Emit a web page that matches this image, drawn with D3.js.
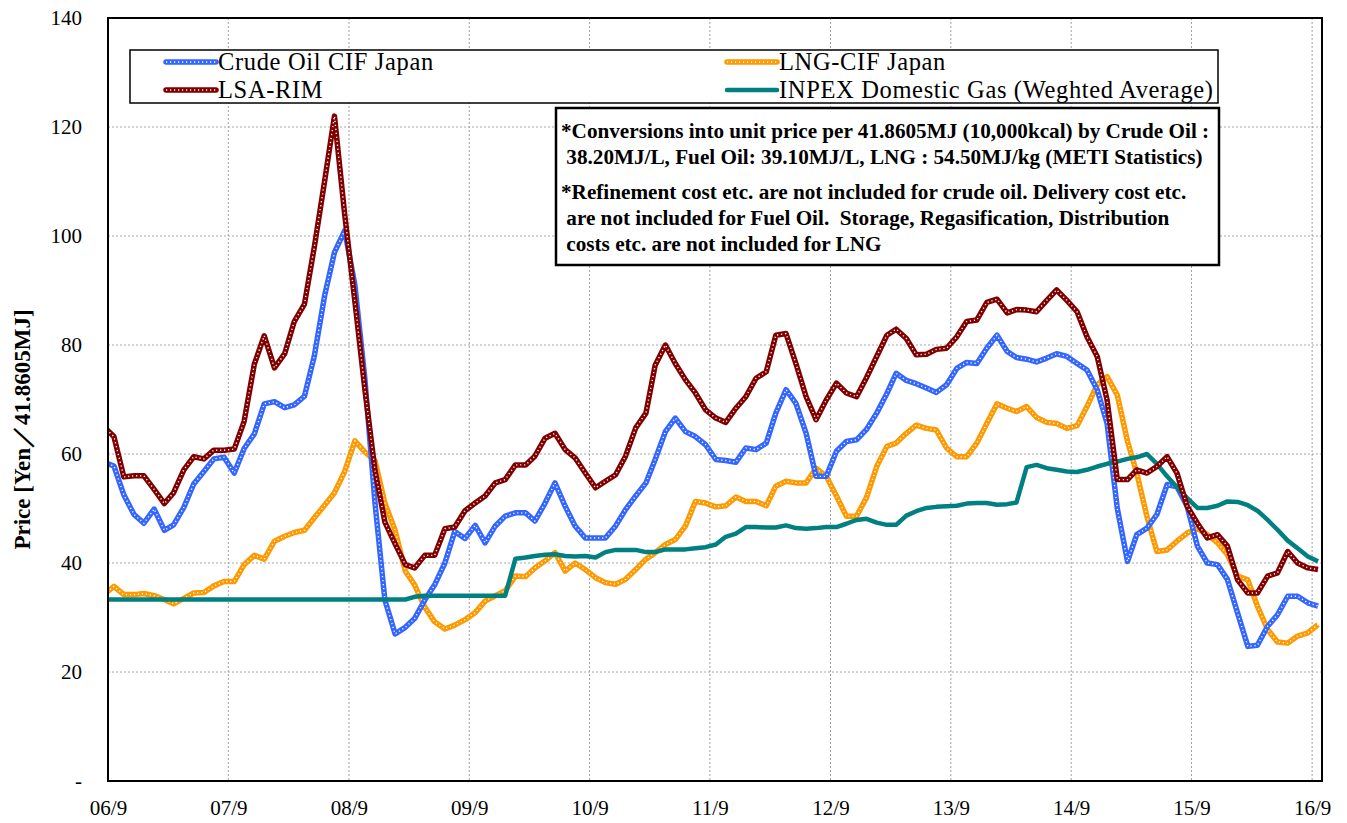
<!DOCTYPE html>
<html>
<head>
<meta charset="utf-8">
<script src="https://d3js.org/d3.v7.min.js"></script>
<style>
body { margin: 0; background: #fff; }
</style>
</head>
<body>
<script>
// monthly values, 2006/8 .. 2016/9 (first month only shows as the clipped start of the line)
var months = d3.timeMonth.range(new Date(2006, 7, 1), new Date(2016, 9, 1));

var crude = [58.5, 57.8, 52.5, 48.9, 47.3, 49.9, 46.0, 47.0, 50.2, 54.5,
  56.8, 59.1, 59.4, 56.5, 61.0, 63.7, 69.2, 69.6, 68.5, 69.0,
  70.6, 78.0, 89.0, 97.0, 101.0, 91.0, 74.0, 51.0, 33.2, 27.0,
  28.2, 29.8, 33.2, 36.0, 40.0, 45.8, 44.5, 46.9, 43.7, 46.8,
  48.6, 49.2, 49.2, 47.7, 51.0, 54.7, 50.4, 46.8, 44.6, 44.6,
  44.6, 46.8, 49.8, 52.3, 54.7, 59.0, 64.1, 66.6, 64.1, 63.2,
  61.7, 59.0, 58.8, 58.5, 61.1, 60.8, 62.0, 67.5, 71.8, 69.3,
  63.8, 55.9, 55.9, 60.5, 62.3, 62.6, 64.5, 67.5, 71.1, 74.8,
  73.5, 72.9, 72.1, 71.3, 72.7, 75.7, 76.8, 76.6, 79.4, 81.8,
  78.8, 77.7, 77.4, 76.9, 77.6, 78.4, 77.9, 76.6, 75.4, 71.8,
  65.6, 50.0, 40.3, 45.2, 46.4, 48.9, 54.4, 54.0, 50.4, 43.1,
  40.0, 39.7, 37.0, 30.8, 24.7, 24.9, 28.4, 30.5, 33.9, 33.9,
  32.7, 32.1];

var lsa = [65.0, 63.2, 55.8, 56.0, 56.0, 53.5, 50.9, 52.9, 57.1, 59.5,
  59.1, 60.7, 60.7, 60.9, 66.0, 76.5, 81.7, 75.8, 78.4, 84.3,
  87.5, 98.0, 110.0, 122.0, 104.0, 88.0, 72.0, 57.0, 47.5, 43.5,
  39.7, 39.1, 41.4, 41.4, 46.3, 46.6, 49.6, 51.0, 52.3, 54.7,
  55.3, 58.0, 58.0, 59.6, 62.9, 63.8, 60.8, 59.3, 56.5, 53.8,
  55.0, 56.2, 59.6, 64.8, 67.5, 76.3, 80.0, 76.6, 73.6, 71.2,
  68.1, 66.6, 65.8, 68.4, 70.5, 73.9, 75.1, 81.8, 82.1, 76.6,
  70.5, 66.3, 69.9, 73.0, 71.2, 70.5, 74.0, 77.9, 81.8, 82.9,
  81.2, 78.2, 78.3, 79.2, 79.4, 81.5, 84.3, 84.6, 87.8, 88.4,
  85.9, 86.5, 86.4, 86.1, 88.2, 90.1, 88.2, 86.1, 81.5, 77.9,
  69.9, 55.3, 55.3, 57.1, 56.5, 57.7, 59.5, 56.5, 50.4, 47.3,
  44.6, 45.2, 43.1, 36.9, 34.5, 34.5, 37.6, 38.2, 42.1, 40.0,
  39.1, 38.8];

var lng = [34.2, 35.7, 34.2, 34.2, 34.4, 34.0, 33.3, 32.5, 33.5, 34.5,
  34.6, 35.8, 36.6, 36.6, 39.7, 41.4, 40.7, 44.0, 44.9, 45.6,
  46.0, 48.3, 50.6, 52.9, 56.8, 62.4, 60.4, 58.8, 51.0, 46.0,
  38.5, 36.0, 31.9, 29.2, 27.9, 28.6, 29.6, 30.9, 33.0, 34.0,
  34.9, 37.6, 37.5, 39.1, 40.4, 41.9, 38.5, 40.0, 38.8, 37.3,
  36.4, 36.1, 37.0, 38.8, 40.7, 41.9, 43.4, 44.3, 46.8, 51.3,
  51.0, 50.3, 50.5, 52.1, 51.3, 51.3, 50.5, 54.1, 55.0, 54.7,
  54.7, 57.4, 55.9, 52.3, 48.6, 48.6, 52.0, 57.7, 61.4, 62.0,
  63.8, 65.3, 64.7, 64.4, 61.1, 59.5, 59.5, 62.0, 65.6, 69.2,
  68.4, 67.8, 68.7, 66.7, 65.8, 65.6, 64.7, 65.2, 68.7, 72.7,
  74.2, 70.8, 62.3, 56.5, 48.5, 42.1, 42.4, 44.0, 45.5, 46.4,
  45.2, 43.7, 41.5, 37.6, 36.9, 32.1, 27.8, 25.5, 25.3, 26.6,
  27.2, 28.7];

var inpex = [33.3, 33.3, 33.3, 33.3, 33.3, 33.3, 33.3, 33.3, 33.3, 33.3,
  33.3, 33.3, 33.3, 33.3, 33.3, 33.3, 33.3, 33.3, 33.3, 33.3,
  33.3, 33.3, 33.3, 33.3, 33.3, 33.3, 33.3, 33.3, 33.3, 33.3,
  33.3, 33.8, 34.0, 34.0, 34.0, 34.0, 34.0, 34.0, 34.0, 34.0,
  34.0, 40.8, 41.0, 41.3, 41.5, 41.6, 41.3, 41.2, 41.3, 41.0,
  42.0, 42.4, 42.4, 42.4, 42.0, 42.0, 42.5, 42.5, 42.5, 42.7,
  42.9, 43.4, 44.8, 45.4, 46.6, 46.6, 46.5, 46.5, 46.9, 46.4,
  46.3, 46.4, 46.6, 46.6, 47.2, 47.9, 48.1, 47.4, 47.0, 47.0,
  48.7, 49.5, 50.1, 50.3, 50.4, 50.5, 50.9, 51.0, 51.0, 50.7,
  50.8, 51.1, 57.6, 58.0, 57.4, 57.1, 56.8, 56.7, 57.1, 57.7,
  58.2, 58.6, 59.1, 59.4, 60.0, 58.2, 55.9, 53.9, 51.9, 50.1,
  50.1, 50.5, 51.3, 51.2, 50.6, 49.6, 47.9, 46.1, 44.1, 42.7,
  41.2, 40.3];

var seriesNames = ["Crude Oil CIF Japan", "LNG-CIF Japan", "LSA-RIM", "INPEX Domestic Gas (Weghted Average)"];
var xTickLabels = ["06/9", "07/9", "08/9", "09/9", "10/9", "11/9", "12/9", "13/9", "14/9", "15/9", "16/9"];
var yTicks = [0, 20, 40, 60, 80, 100, 120, 140];

var noteLines1 = ["*Conversions into unit price per 41.8605MJ (10,000kcal) by Crude Oil :",
  " 38.20MJ/L, Fuel Oil: 39.10MJ/L, LNG : 54.50MJ/kg (METI Statistics)"];
var noteLines2 = ["*Refinement cost etc. are not included for crude oil. Delivery cost etc.",
  " are not included for Fuel Oil.  Storage, Regasification, Distribution",
  " costs etc. are not included for LNG"];

var width = 1347, height = 823;
var plotLeft = 108, plotRight = 1322, plotTop = 18, plotBottom = 781;
var serif = "'Liberation Serif', 'Times New Roman', serif";

var svg = d3.select("body").append("svg")
  .attr("width", width)
  .attr("height", height)
  .style("display", "block");

var parseTick = d3.timeParse("%y/%m");
var tickDates = xTickLabels.map(function(s) { return parseTick(s); });

var x = d3.scaleTime()
  .domain([new Date(2006, 8, 1), new Date(2016, 9, 1)])
  .range([plotLeft, plotRight]);
var y = d3.scaleLinear().domain([0, 140]).range([plotBottom, plotTop]);

// grid
svg.append("g").selectAll("line")
  .data(yTicks.filter(function(d) { return d > 0 && d < 140; }))
  .enter().append("line")
  .attr("x1", plotLeft).attr("x2", plotRight)
  .attr("y1", function(d) { return y(d); }).attr("y2", function(d) { return y(d); })
  .attr("stroke", "#a8a8a8").attr("stroke-width", 1).attr("stroke-dasharray", "2,2");

svg.append("g").selectAll("line")
  .data(tickDates.slice(1))
  .enter().append("line")
  .attr("x1", function(d) { return x(d); }).attr("x2", function(d) { return x(d); })
  .attr("y1", plotTop).attr("y2", plotBottom)
  .attr("stroke", "#a0a0a0").attr("stroke-width", 1).attr("stroke-dasharray", "2,2");

// axes
var yAxis = svg.append("g")
  .attr("transform", "translate(" + plotLeft + ",0)")
  .call(d3.axisLeft(y).tickValues(yTicks).tickSize(0).tickPadding(26)
    .tickFormat(function(d) { return d === 0 ? "-" : d; }));
yAxis.select(".domain").remove();
yAxis.selectAll("text").attr("font-family", serif).attr("font-size", 21).attr("fill", "#000");

var xAxis = svg.append("g")
  .attr("transform", "translate(0," + plotBottom + ")")
  .call(d3.axisBottom(x).tickValues(tickDates).tickSize(0).tickPadding(19)
    .tickFormat(function(d, i) { return xTickLabels[i]; }));
xAxis.select(".domain").remove();
xAxis.selectAll("text").attr("font-family", serif).attr("font-size", 21).attr("fill", "#000");

svg.append("text")
  .attr("transform", "translate(30," + ((plotTop + plotBottom) / 2 + 30) + ") rotate(-90)")
  .attr("text-anchor", "middle")
  .attr("font-family", serif)
  .attr("font-weight", "bold")
  .attr("font-size", 23)
  .text("Price [Yen／41.8605MJ]");

// lines
svg.append("clipPath").attr("id", "plot-clip")
  .append("rect").attr("x", plotLeft).attr("y", plotTop)
  .attr("width", plotRight - plotLeft).attr("height", plotBottom - plotTop);

var line = d3.line()
  .x(function(d) { return x(d3.timeDay.offset(d.month, 18)); })
  .y(function(d) { return y(d.value); });

function pairs(values) {
  return values.map(function(v, i) { return { month: months[i], value: v }; });
}

var plot = svg.append("g").attr("clip-path", "url(#plot-clip)");

var styles = [
  { data: lng, color: "#ff9900", dotted: true },
  { data: crude, color: "#3366ff", dotted: true },
  { data: inpex, color: "#008080", dotted: false },
  { data: lsa, color: "#800000", dotted: true }
];

styles.forEach(function(s) {
  plot.append("path")
    .datum(pairs(s.data))
    .attr("d", line)
    .attr("fill", "none")
    .attr("stroke", s.color)
    .attr("stroke-width", s.dotted ? 5.5 : 4.5)
    .attr("stroke-linejoin", "round");
  if (s.dotted) {
    plot.append("path")
      .datum(pairs(s.data))
      .attr("d", line)
      .attr("fill", "none")
      .attr("stroke", "#fff")
      .attr("stroke-width", 1.4)
      .attr("stroke-dasharray", "1.2,2.8");
  }
});

// frame
svg.append("rect")
  .attr("x", plotLeft).attr("y", plotTop)
  .attr("width", plotRight - plotLeft).attr("height", plotBottom - plotTop)
  .attr("fill", "none").attr("stroke", "#000").attr("stroke-width", 2);

// legend
var legend = svg.append("g");
legend.append("rect")
  .attr("x", 130).attr("y", 50).attr("width", 1088).attr("height", 53)
  .attr("fill", "#fff").attr("stroke", "#000").attr("stroke-width", 1.5);

var legendItems = [
  { name: seriesNames[0], color: "#3366ff", dotted: true, lx: 166, ly: 62 },
  { name: seriesNames[2], color: "#800000", dotted: true, lx: 166, ly: 90 },
  { name: seriesNames[1], color: "#ff9900", dotted: true, lx: 727, ly: 62 },
  { name: seriesNames[3], color: "#008080", dotted: false, lx: 727, ly: 90 }
];

legendItems.forEach(function(d) {
  legend.append("line")
    .attr("x1", d.lx).attr("x2", d.lx + 50).attr("y1", d.ly).attr("y2", d.ly)
    .attr("stroke", d.color).attr("stroke-width", d.dotted ? 5.5 : 4.5)
    .attr("stroke-linecap", "round");
  if (d.dotted) {
    legend.append("line")
      .attr("x1", d.lx).attr("x2", d.lx + 50).attr("y1", d.ly).attr("y2", d.ly)
      .attr("stroke", "#fff").attr("stroke-width", 1.4).attr("stroke-dasharray", "1.2,2.8");
  }
  legend.append("text")
    .attr("x", d.lx + 52).attr("y", d.ly + 8)
    .attr("font-family", serif).attr("font-size", 24.5)
    .attr("letter-spacing", 0.65)
    .text(d.name);
});

// note box
var note = svg.append("g");
note.append("rect")
  .attr("x", 556).attr("y", 108).attr("width", 663).attr("height", 157)
  .attr("fill", "#fff").attr("stroke", "#000").attr("stroke-width", 2.5);

function noteText(lines, y0) {
  note.append("g").selectAll("text")
    .data(lines).enter().append("text")
    .attr("x", 561).attr("y", function(d, i) { return y0 + i * 26; })
    .attr("font-family", serif).attr("font-weight", "bold").attr("font-size", 21.2)
    .attr("xml:space", "preserve")
    .style("white-space", "pre")
    .text(function(d) { return d; });
}
noteText(noteLines1, 138);
noteText(noteLines2, 199);
</script>
</body>
</html>
